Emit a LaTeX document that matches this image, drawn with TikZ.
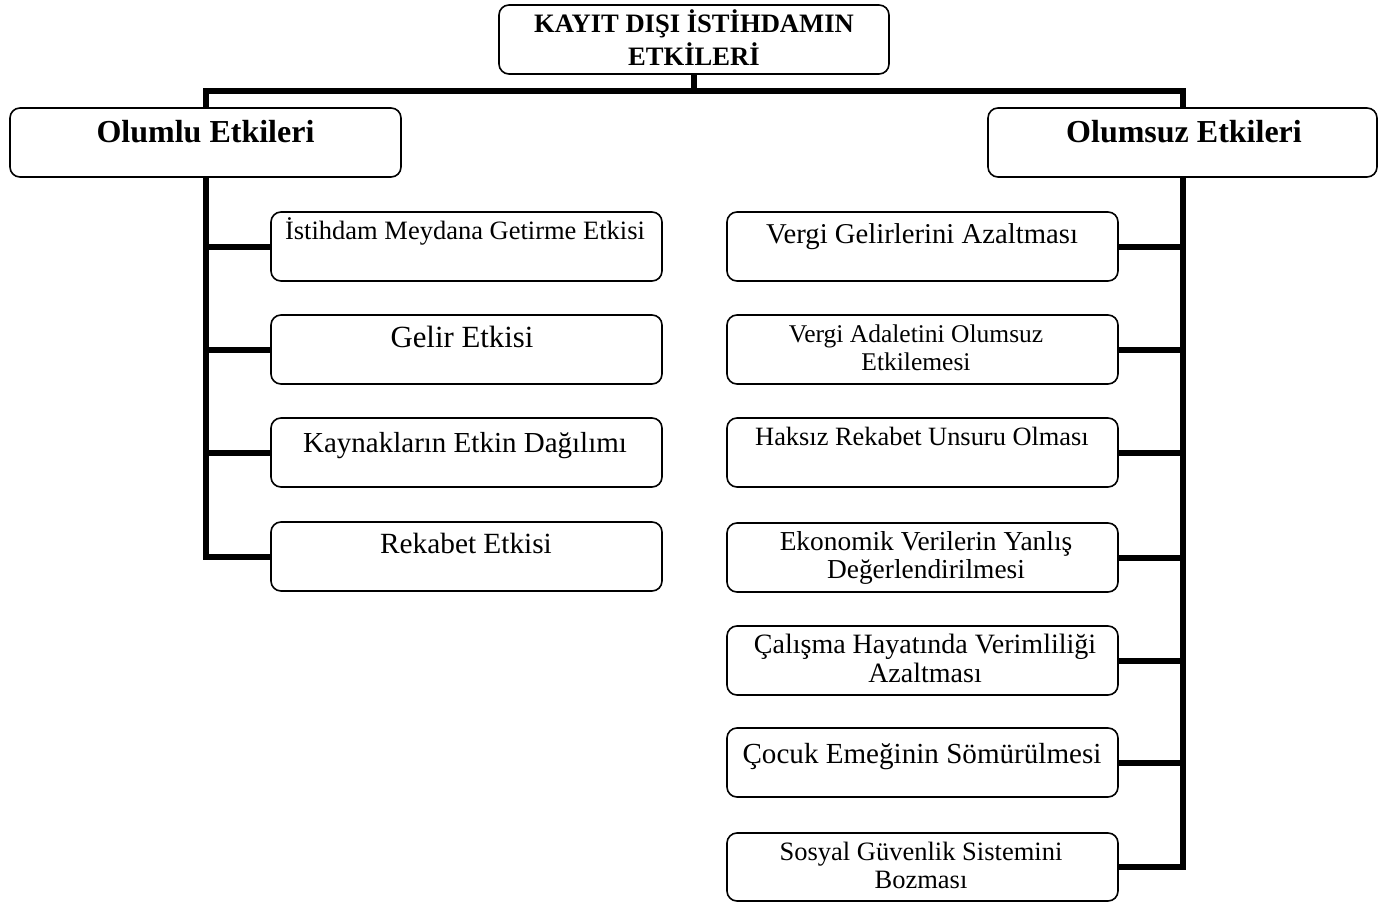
\documentclass[tikz,border=0pt]{standalone}
\usepackage{fontspec}
\setmainfont{Liberation Serif}
\newcommand{\fsz}[2]{\fontsize{#1pt}{#2pt}\selectfont}
\newcommand{\twol}[2]{\begin{tabular}[t]{@{}c@{}}#1\\#2\end{tabular}}
\tikzset{
  box/.style={draw, line width=1.6pt, rounded corners=10pt, minimum width=391pt, minimum height=69pt, inner sep=0pt},
  conn/.style={line width=6pt, line join=miter},
  lbl/.style={anchor=base, inner sep=0pt, align=center},
}
\begin{document}
\begin{tikzpicture}[x=1pt,y=-1pt]
\useasboundingbox (0,0) rectangle (1378,904);
% main boxes
\node[box, minimum width=390pt] (top) at (694,39.5) {};
\node[box] (ol) at (205.5,142.5) {};
\node[box, minimum width=389pt] (os) at (1182.5,142.5) {};
% left boxes
\node[box] (l1) at (466.5,246.5) {};
\node[box] (l2) at (466.5,349.5) {};
\node[box] (l3) at (466.5,452.5) {};
\node[box] (l4) at (466.5,556.5) {};
% right boxes
\node[box] (r1) at (922.5,246.5) {};
\node[box] (r2) at (922.5,349.5) {};
\node[box] (r3) at (922.5,452.5) {};
\node[box] (r4) at (922.5,557.5) {};
\node[box] (r5) at (922.5,660.5) {};
\node[box] (r6) at (922.5,762.5) {};
\node[box, minimum height=68pt] (r7) at (922.5,867) {};
% texts
\node[lbl, font=\bfseries\fsz{26.6}{31}] (toptxt) at (694,33) {\twol{KAYIT DIŞI İSTİHDAMIN}{ETKİLERİ}};
\node[lbl, font=\bfseries\fsz{32}{36}] (oltxt) at (205.5,143) {Olumlu Etkileri};
\node[lbl, font=\bfseries\fsz{32}{36}] (ostxt) at (1184,143) {Olumsuz Etkileri};
\node[lbl, font=\fsz{26.5}{30}] (l1t) at (465,240) {İstihdam Meydana Getirme Etkisi};
\node[lbl, font=\fsz{30.8}{34}] (l2t) at (462,347) {Gelir Etkisi};
\node[lbl, font=\fsz{29}{33}] (l3t) at (465,452) {Kaynakların Etkin Dağılımı};
\node[lbl, font=\fsz{29.3}{33}] (l4t) at (466,553) {Rekabet Etkisi};
\node[lbl, font=\fsz{28.7}{32}] (r1t) at (922,243) {Vergi Gelirlerini Azaltması};
\node[lbl, font=\fsz{25.5}{28}] (r2t) at (916,342) {\twol{Vergi Adaletini Olumsuz}{Etkilemesi}};
\node[lbl, font=\fsz{26.4}{29}] (r3t) at (922,445) {Haksız Rekabet Unsuru Olması};
\node[lbl, font=\fsz{27.4}{28}] (r4t) at (926,550) {\twol{Ekonomik Verilerin Yanlış}{Değerlendirilmesi}};
\node[lbl, font=\fsz{28}{29}] (r5t) at (925,653) {\twol{Çalışma Hayatında Verimliliği}{Azaltması}};
\node[lbl, font=\fsz{29.1}{32}] (r6t) at (922,763) {Çocuk Emeğinin Sömürülmesi};
\node[lbl, font=\fsz{26.5}{28}] (r7t) at (921,860) {\twol{Sosyal Güvenlik Sistemini}{Bozması}};
% connectors
\coordinate (hub) at (694,91);
\draw[conn] (top.south) -- (hub);
\draw[conn] (ol.north) |- (hub) -| (os.north);
\foreach \n in {l1,l2,l3,l4} \draw[conn] (ol.south) |- (\n.west);
\foreach \n in {r1,r2,r3,r4,r5,r6} \draw[conn] (os.south) |- (\n.east);
\draw[conn] (os.south) |- (r7.east);
\end{tikzpicture}
\end{document}
